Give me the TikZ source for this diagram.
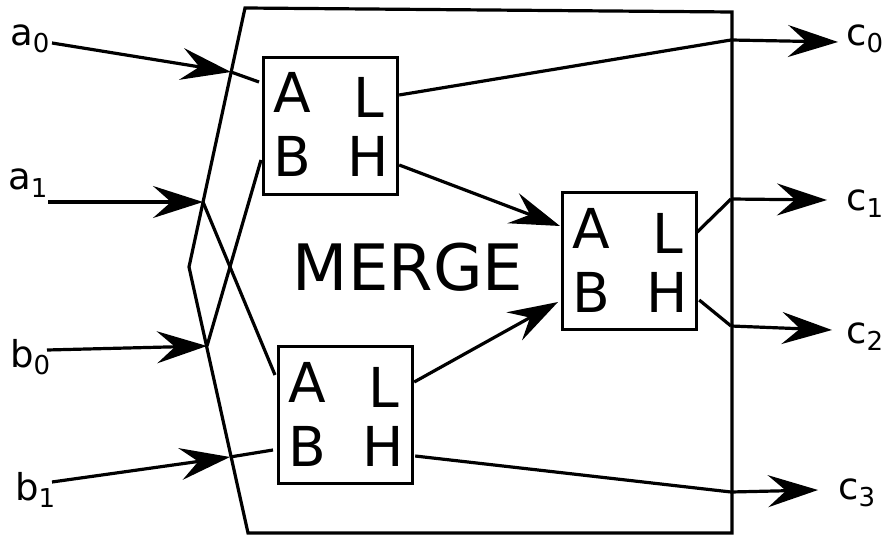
\documentclass[tikz,border=0pt]{standalone}
\usepackage{fontspec}
\setmainfont{DejaVu Sans}
\usetikzlibrary{arrows.meta,calc}

\tikzset{
  wire/.style={line width=3.2pt, line cap=butt},
  feed/.style={wire, -{Stealth[length=50pt,width=32pt,inset=18pt]}},
  unit/.style={draw, line width=3.2pt, minimum width=134pt, minimum height=137pt,
               inner sep=0pt, anchor=north west},
  pinlet/.style={font=\fontsize{55}{55}\selectfont, inner sep=0pt, anchor=base},
  sig/.style={font=\fontsize{37}{37}\selectfont, inner sep=0pt, anchor=base west},
  title/.style={font=\fontsize{64}{64}\selectfont, inner sep=0pt, anchor=base},
}

% subscript digit of a signal name
\newcommand\lsub[1]{\raisebox{-7pt}{\fontsize{26}{26}\selectfont #1}}

% one compare-exchange unit: name, north-west corner
\newcommand\sortunit[3]{%
  \node[unit] (#1) at (#2,#3) {};
  \node[pinlet] at ($(#1.north west)+(30,57)$) {A};
  \node[pinlet] at ($(#1.north west)+(107,62)$) {L};
  \node[pinlet] at ($(#1.north west)+(30,121)$) {B};
  \node[pinlet] at ($(#1.north west)+(106,121)$) {H};
}

\begin{document}
\begin{tikzpicture}[x=1pt, y=-1pt]
  \useasboundingbox (0,0) rectangle (882,537);

  % enclosing block
  \draw[line width=3.2pt, line join=miter]
    (245,8) -- (732,12) -- (732,533) -- (248,533) -- (189,267) -- cycle;
  \node[title] (merge) at (408,290) {MERGE};

  % units
  \sortunit{m1}{262}{56}
  \sortunit{m2}{277}{345}
  \sortunit{m3}{561}{191}

  % unit pins
  \coordinate (m1A) at ($(m1.north west)+(-3,26)$);
  \coordinate (m1B) at ($(m1.north west)+(-1,104)$);
  \coordinate (m1L) at ($(m1.north east)+(0,39)$);
  \coordinate (m1H) at ($(m1.north east)+(0,109)$);
  \coordinate (m2A) at ($(m2.north west)+(-2,30)$);
  \coordinate (m2B) at ($(m2.north west)+(-4,105)$);
  \coordinate (m2L) at ($(m2.north east)+(0,37)$);
  \coordinate (m2H) at ($(m2.north east)+(1,111)$);
  \coordinate (m3A) at ($(m3.north west)+(-1,35)$);
  \coordinate (m3B) at ($(m3.north west)+(-3,111)$);
  \coordinate (m3L) at ($(m3.north east)+(-2,42)$);
  \coordinate (m3H) at ($(m3.north east)+(1,109)$);

  % signal names
  \node[sig] (a0) at (10,46)  {a\lsub{0}};
  \node[sig] (a1) at (8,190)  {a\lsub{1}};
  \node[sig] (b0) at (10,367) {b\lsub{0}};
  \node[sig] (b1) at (15,500) {b\lsub{1}};
  \node[sig] (c0) at (846,46)  {c\lsub{0}};
  \node[sig] (c1) at (846,211) {c\lsub{1}};
  \node[sig] (c2) at (846,343) {c\lsub{2}};
  \node[sig] (c3) at (838,499) {c\lsub{3}};

  % wire ends outside the block
  \coordinate (a0s) at (52,43);
  \coordinate (a1s) at (48,202);
  \coordinate (b0s) at (47,350);
  \coordinate (b1s) at (52,482);
  \coordinate (c0e) at (838,42);
  \coordinate (c1e) at (827,200);
  \coordinate (c2e) at (832,330);
  \coordinate (c3e) at (818,490);

  % points where wires cross the block border
  \coordinate (xa0) at (231,72);
  \coordinate (xa1) at (203,202);
  \coordinate (xb0) at (207,346);
  \coordinate (xb1) at (230,457);
  \coordinate (xc0) at (731,40);
  \coordinate (xc1) at (731,199);
  \coordinate (xc2) at (731,326);
  \coordinate (xc3) at (731,492);

  % inputs
  \draw[feed] (a0s) -- (xa0);
  \draw[wire] (xa0) -- (m1A);
  \draw[feed] (a1s) -- (xa1);
  \draw[wire] (xa1) -- (m2A);
  \draw[feed] (b0s) -- (xb0);
  \draw[wire] (xb0) -- (m1B);
  \draw[feed] (b1s) -- (xb1);
  \draw[wire] (xb1) -- (m2B);

  % between units
  \draw[feed] (m1H) -- (m3A);
  \draw[feed] (m2L) -- (m3B);

  % outputs
  \draw[wire] (m1L) -- (xc0);
  \draw[feed] (xc0) -- (c0e);
  \draw[wire] (m3L) -- (xc1);
  \draw[feed] (xc1) -- (c1e);
  \draw[wire] (m3H) -- (xc2);
  \draw[feed] (xc2) -- (c2e);
  \draw[wire] (m2H) -- (xc3);
  \draw[feed] (xc3) -- (c3e);
\end{tikzpicture}
\end{document}
